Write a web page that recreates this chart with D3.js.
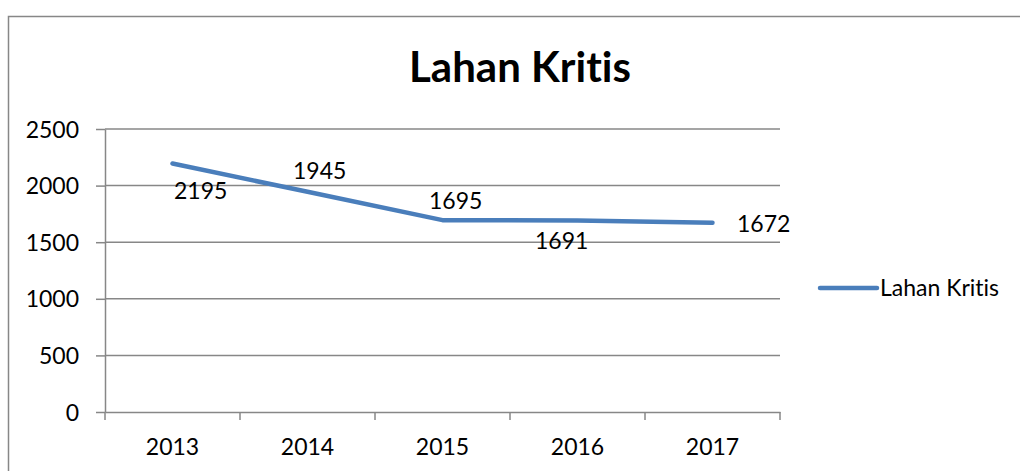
<!DOCTYPE html>
<html>
<head>
<meta charset="utf-8">
<script src="https://cdn.jsdelivr.net/npm/d3@7"></script>
<style>
  body { margin: 0; background: #fff; }
  svg text { font-family: Lato, "Open Sans", sans-serif; fill: #000; font-variant-ligatures: none; font-feature-settings: "liga" 0; }
</style>
</head>
<body>
<svg id="chart" width="1020" height="471"></svg>
<script>
// data
var years = ["2013", "2014", "2015", "2016", "2017"];
var values = [2195, 1945, 1695, 1691, 1672];
var yTicks = [0, 500, 1000, 1500, 2000, 2500];
var seriesName = "Lahan Kritis";
var chartTitle = "Lahan Kritis";

// hand placed label offsets (like the original), relative to each point
var labelOffsets = [[1.5, 35], [-14.5, -12.6], [-13.5, -11], [-42.5, 28], [24.5, 9.2]];

var gray = "#878787";
var blue = "#4a7ebb";
var fontSize = 23;

var svg = d3.select("#chart");

// outer frame, runs off the right and bottom edges
svg.append("rect")
    .attr("x", 8.5).attr("y", 16.5)
    .attr("width", 1100).attr("height", 600)
    .attr("fill", "none")
    .attr("stroke", gray)
    .attr("stroke-width", 1.5);

var x = d3.scaleBand().domain(years).range([105, 780]);
var y = d3.scaleLinear().domain([0, 2500]).range([412, 129]);

// gridlines
svg.append("g").selectAll("line")
    .data(yTicks.filter(function(d) { return d > 0; }))
    .join("line")
    .attr("x1", 105).attr("x2", 780)
    .attr("y1", function(d) { return y(d); })
    .attr("y2", function(d) { return y(d); })
    .attr("stroke", gray)
    .attr("stroke-width", 1.5);

// y axis
var yAxis = svg.append("g")
    .attr("transform", "translate(105,0)")
    .call(d3.axisLeft(y).tickValues(yTicks).tickFormat(d3.format("d"))
        .tickSize(9).tickPadding(17).tickSizeOuter(0));
yAxis.select(".domain").attr("stroke", gray).attr("stroke-width", 1.5);
yAxis.selectAll(".tick line").attr("stroke", gray).attr("stroke-width", 1.5);
yAxis.selectAll(".tick text")
    .attr("dy", 8)
    .style("font-size", fontSize + "px")
    .style("font-family", "Lato, sans-serif");

// x axis, ticks between categories
var xAxis = svg.append("g")
    .attr("transform", "translate(0,412)")
    .call(d3.axisBottom(x).tickSize(0).tickSizeOuter(0));
xAxis.select(".domain").attr("stroke", gray).attr("stroke-width", 1.5);
xAxis.selectAll(".tick text")
    .attr("y", 43).attr("dy", 0)
    .style("font-size", fontSize + "px")
    .style("font-family", "Lato, sans-serif");
var bounds = years.map(function(d) { return x(d); }).concat([x.range()[1]]);
xAxis.selectAll(".sep")
    .data(bounds)
    .join("line")
    .attr("class", "sep")
    .attr("x1", function(d) { return d; }).attr("x2", function(d) { return d; })
    .attr("y1", 0).attr("y2", 8)
    .attr("stroke", gray)
    .attr("stroke-width", 1.5);

// series line
var cx = function(d, i) { return x(years[i]) + x.bandwidth() / 2; };
var line = d3.line()
    .x(function(d, i) { return cx(d, i); })
    .y(function(d) { return y(d); });
svg.append("path")
    .datum(values)
    .attr("d", line)
    .attr("fill", "none")
    .attr("stroke", blue)
    .attr("stroke-width", 4.5)
    .attr("stroke-linecap", "round")
    .attr("stroke-linejoin", "round");

// data labels
svg.append("g").selectAll("text")
    .data(values)
    .join("text")
    .attr("x", function(d, i) { return cx(d, i) + labelOffsets[i][0]; })
    .attr("y", function(d, i) { return y(d) + labelOffsets[i][1]; })
    .style("font-size", fontSize + "px")
    .text(function(d) { return d; });

// title
svg.append("text")
    .attr("x", 520).attr("y", 82)
    .attr("text-anchor", "middle")
    .style("font-size", "42px")
    .style("font-weight", "bold")
    .text(chartTitle);

// legend
var legend = svg.append("g").attr("transform", "translate(820,288)");
legend.append("line")
    .attr("x1", 0).attr("x2", 57)
    .attr("stroke", blue)
    .attr("stroke-width", 4.5)
    .attr("stroke-linecap", "round");
legend.append("text")
    .attr("x", 60).attr("y", 8)
    .style("font-size", fontSize + "px")
    .text(seriesName);
</script>
</body>
</html>
